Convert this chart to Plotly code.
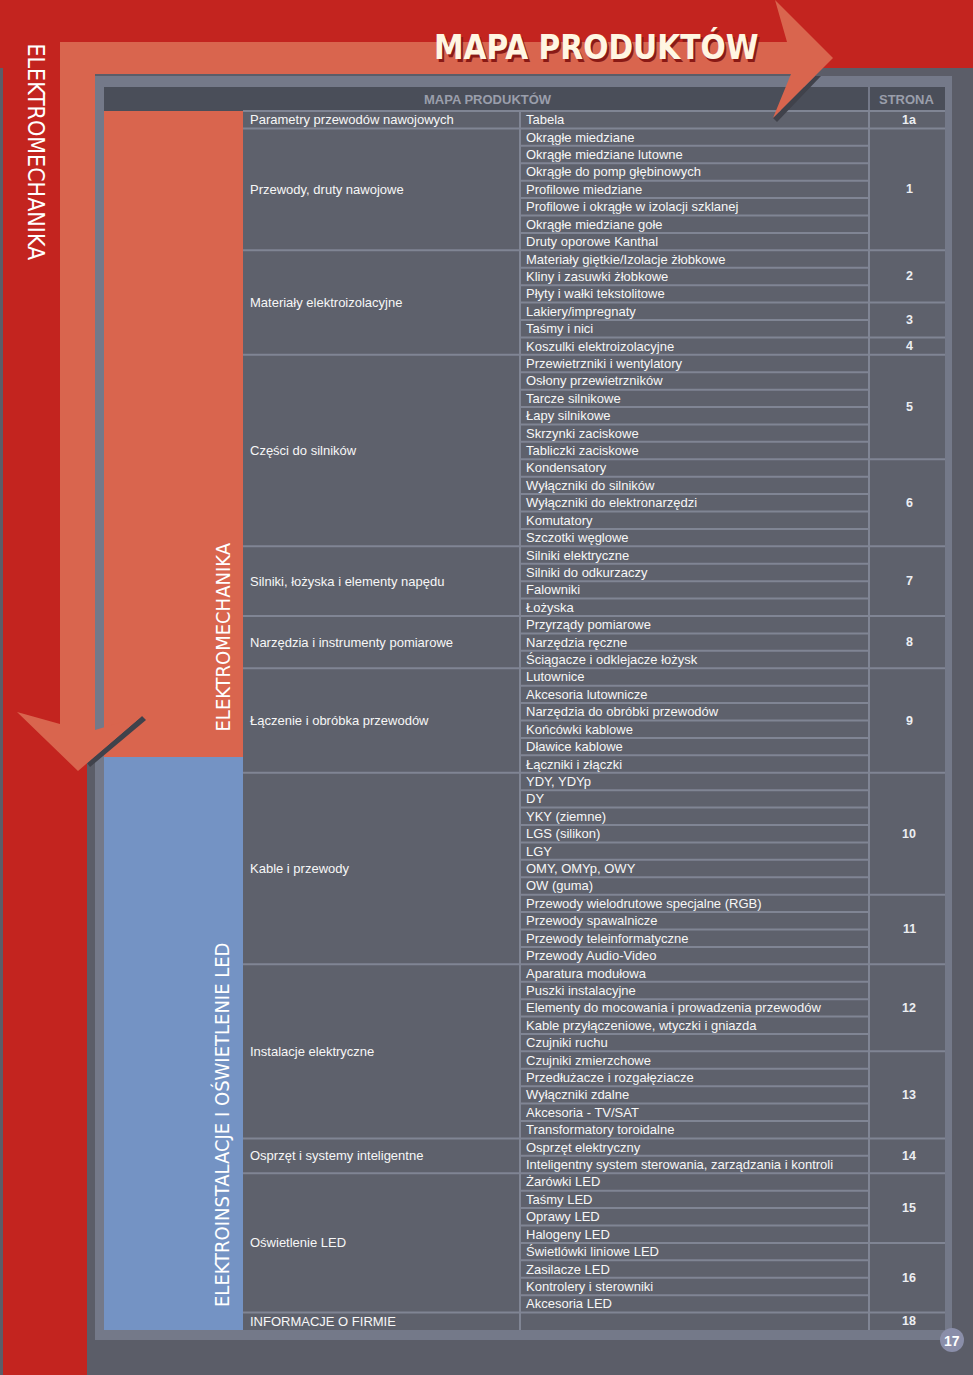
import plotly.graph_objects as go

# ---------------- data ----------------
title = "MAPA PRODUKTÓW"
side_label = "ELEKTROMECHANIKA"
header_left = "MAPA PRODUKTÓW"
header_right = "STRONA"
page_number = "17"

sections = ["ELEKTROMECHANIKA", "ELEKTROINSTALACJE I OŚWIETLENIE LED"]

groups = [
    "Parametry przewodów nawojowych",
    "Przewody, druty nawojowe",
    "Materiały elektroizolacyjne",
    "Części do silników",
    "Silniki, łożyska i elementy napędu",
    "Narzędzia i instrumenty pomiarowe",
    "Łączenie i obróbka przewodów",
    "Kable i przewody",
    "Instalacje elektryczne",
    "Osprzęt i systemy inteligentne",
    "Oświetlenie LED",
    "INFORMACJE O FIRMIE",
]
group_sizes = [1, 7, 6, 11, 4, 3, 6, 11, 10, 2, 8, 1]

items = [
    "Tabela",
    "Okrągłe miedziane", "Okrągłe miedziane lutowne", "Okrągłe do pomp głębinowych",
    "Profilowe miedziane", "Profilowe i okrągłe w izolacji szklanej",
    "Okrągłe miedziane gołe", "Druty oporowe Kanthal",
    "Materiały giętkie/Izolacje żłobkowe", "Kliny i zasuwki żłobkowe",
    "Płyty i wałki tekstolitowe", "Lakiery/impregnaty", "Taśmy i nici",
    "Koszulki elektroizolacyjne",
    "Przewietrzniki i wentylatory", "Osłony przewietrzników", "Tarcze silnikowe",
    "Łapy silnikowe", "Skrzynki zaciskowe", "Tabliczki zaciskowe", "Kondensatory",
    "Wyłączniki do silników", "Wyłączniki do elektronarzędzi", "Komutatory",
    "Szczotki węglowe",
    "Silniki elektryczne", "Silniki do odkurzaczy", "Falowniki", "Łożyska",
    "Przyrządy pomiarowe", "Narzędzia ręczne", "Ściągacze i odklejacze łożysk",
    "Lutownice", "Akcesoria lutownicze", "Narzędzia do obróbki przewodów",
    "Końcówki kablowe", "Dławice kablowe", "Łączniki i złączki",
    "YDY, YDYp", "DY", "YKY (ziemne)", "LGS (silikon)", "LGY", "OMY, OMYp, OWY",
    "OW (guma)", "Przewody wielodrutowe specjalne (RGB)", "Przewody spawalnicze",
    "Przewody teleinformatyczne", "Przewody Audio-Video",
    "Aparatura modułowa", "Puszki instalacyjne",
    "Elementy do mocowania i prowadzenia przewodów",
    "Kable przyłączeniowe, wtyczki i gniazda", "Czujniki ruchu",
    "Czujniki zmierzchowe", "Przedłużacze i rozgałęziacze", "Wyłączniki zdalne",
    "Akcesoria - TV/SAT", "Transformatory toroidalne",
    "Osprzęt elektryczny", "Inteligentny system sterowania, zarządzania i kontroli",
    "Żarówki LED", "Taśmy LED", "Oprawy LED", "Halogeny LED",
    "Świetlówki liniowe LED", "Zasilacze LED", "Kontrolery i sterowniki", "Akcesoria LED",
    "",
]

pages = ["1a", "1", "2", "3", "4", "5", "6", "7", "8", "9",
         "10", "11", "12", "13", "14", "15", "16", "18"]
page_sizes = [1, 7, 3, 2, 1, 6, 5, 4, 3, 6, 7, 4, 5, 5, 2, 4, 4, 1]

# ---------------- style / layout ----------------
W, H = 973, 1375
TOP, BOT = 111, 1330          # pixel extent of the table body
N = len(items)
RH = (BOT - TOP) / N          # row height in pixels

BG = "#5b5d68"
RED = "#c3241f"
SAL = "#d9654e"
BLUE = "#7493c4"
FRAME = "#747989"
HEAD = "#4a4e59"
CELL = "#5e616c"
LINE = "#808594"
TXT = "#f7f7f7"
SHADOW = "#40424b"

TABLE_FONT = "Liberation Sans, Arial, sans-serif"
COND_FONT = "Liberation Sans Narrow, DejaVu Sans Condensed, Roboto, sans-serif"

X_BAND0, X_BAND1 = 104, 243
X_GRP = 243
X_ITEM = 520
X_PAGE = 869
X_END = 945
SECTION_SPLIT_PX = 757

fig = go.Figure()
fig.add_trace(go.Scatter(x=[0], y=[0], mode="markers", marker=dict(opacity=0),
                         hoverinfo="skip", showlegend=False))

fig.update_layout(
    width=W, height=H, margin=dict(l=0, r=0, t=0, b=0, pad=0),
    paper_bgcolor=BG, plot_bgcolor=BG, showlegend=False,
    xaxis=dict(range=[0, W], visible=False, fixedrange=True),
    yaxis=dict(range=[(H - TOP) / RH, -TOP / RH], visible=False, fixedrange=True),
    yaxis2=dict(range=[H, 0], overlaying="y", visible=False, fixedrange=True),
)


def rect(x0, y0, x1, y1, color, yref="y2"):
    fig.add_shape(type="rect", xref="x", yref=yref, x0=x0, x1=x1, y0=y0, y1=y1,
                  fillcolor=color, line_width=0, layer="above")


def hline(x0, x1, y, color=LINE, width=2, yref="y"):
    fig.add_shape(type="line", xref="x", yref=yref, x0=x0, x1=x1, y0=y, y1=y,
                  line=dict(color=color, width=width), layer="above")


def vline(x, y0, y1, color=LINE, width=2, yref="y"):
    fig.add_shape(type="line", xref="x", yref=yref, x0=x, x1=x, y0=y0, y1=y1,
                  line=dict(color=color, width=width), layer="above")


def path(d, color):
    fig.add_shape(type="path", xref="x", yref="y2", path=d, fillcolor=color,
                  line_width=0, layer="above")


# background decorations
rect(0, 0, W, 68, RED)
rect(3, 0, 87, H, RED)

# table frame + header
rect(95, 76, 952, 1340, FRAME)
rect(X_BAND0, 87, X_END, TOP, HEAD)
vline(X_PAGE, 87, TOP, FRAME, 2, yref="y2")

# section colour bands
rect(X_BAND0, TOP, X_BAND1, SECTION_SPLIT_PX, SAL)
rect(X_BAND0, SECTION_SPLIT_PX, X_BAND1, BOT, BLUE)

# table body background
rect(X_GRP, 0, X_END, N, CELL, yref="y")

# row boundaries
group_bounds = set()
acc = 0
for s in group_sizes:
    acc += s
    group_bounds.add(acc)
page_bounds = set()
acc = 0
for s in page_sizes:
    acc += s
    page_bounds.add(acc)

hline(X_GRP, X_END, 0)
for i in range(1, N):
    hline(X_ITEM, X_PAGE, i)
    if i in group_bounds:
        hline(X_GRP, X_ITEM, i)
    if i in page_bounds:
        hline(X_PAGE, X_END, i)
vline(X_ITEM, 0, N)
vline(X_PAGE, 0, N)

# arrow shadows, then the salmon L-arrow
path("M815,76 L821,76 L777,122 L773,118 Z", SHADOW)
path("M142,716 L146,720 L90,767 L87,763 Z", SHADOW)
path("M60,42 L787,42 L775,0 L833,58 L773,118 L791,74 L95,74 L95,730 "
     "L142,716 L78,771 L17,712 L60,724 Z", SAL)

# page number badge
fig.add_shape(type="circle", xref="x", yref="y2", x0=940, x1=964, y0=1328, y1=1352,
              fillcolor="#8a8ea9", line_width=0, layer="above")

# ---------------- texts ----------------
def ann(text, x, y, size, color=TXT, family=TABLE_FONT, xanchor="left",
        yanchor="middle", yref="y", angle=0, bold=False, shadow=None):
    font = dict(size=size, color=color, family=family)
    if bold:
        font["weight"] = "bold"
    if shadow:
        font["shadow"] = shadow
    try:
        fig.add_annotation(text=text, x=x, y=y, xref="x", yref=yref, showarrow=False,
                           xanchor=xanchor, yanchor=yanchor, textangle=angle,
                           font=font, borderpad=0)
    except ValueError:
        font.pop("shadow", None)
        fig.add_annotation(text=text, x=x, y=y, xref="x", yref=yref, showarrow=False,
                           xanchor=xanchor, yanchor=yanchor, textangle=angle,
                           font=font, borderpad=0)


# items
for i, it in enumerate(items):
    if it:
        ann(it, X_ITEM + 5, i + 0.5, 13)

# groups
acc = 0
for g, s in zip(groups, group_sizes):
    ann(g, X_GRP + 6, acc + s / 2, 13)
    acc += s

# pages
acc = 0
for p, s in zip(pages, page_sizes):
    ann(p, 909, acc + s / 2, 12.5, color="#eceef2", xanchor="center", bold=True)
    acc += s

# headers
ann(header_left, 488, 99, 13, color="#9a9eab", xanchor="center", yref="y2", bold=True)
ann(header_right, 907, 99, 13, color="#9a9eab", xanchor="center", yref="y2", bold=True)

# section labels (vertical)
ann(sections[0], 222, 733, 20, color="#ffffff", family=COND_FONT, xanchor="center",
    yanchor="bottom", yref="y2", angle=-90)
ann(sections[1], 222, 1308, 20, color="#ffffff", family=COND_FONT, xanchor="center",
    yanchor="bottom", yref="y2", angle=-90)

# left strip label
ann(side_label, 36, 42, 23, color="#ffffff", family=COND_FONT, xanchor="center",
    yanchor="top", yref="y2", angle=90)

# title
ann(title, 596, 47, 33, color="#fff6e2", family=COND_FONT, xanchor="center",
    yref="y2", bold=True, shadow="2px 3px 0px #8a1a16")

# page number
ann(page_number, 952, 1341, 14, color="#ffffff", xanchor="center", yref="y2", bold=True)

fig.write_html("out.html", config={"displayModeBar": False, "staticPlot": True},
               post_script="document.body.style.margin='0';")
